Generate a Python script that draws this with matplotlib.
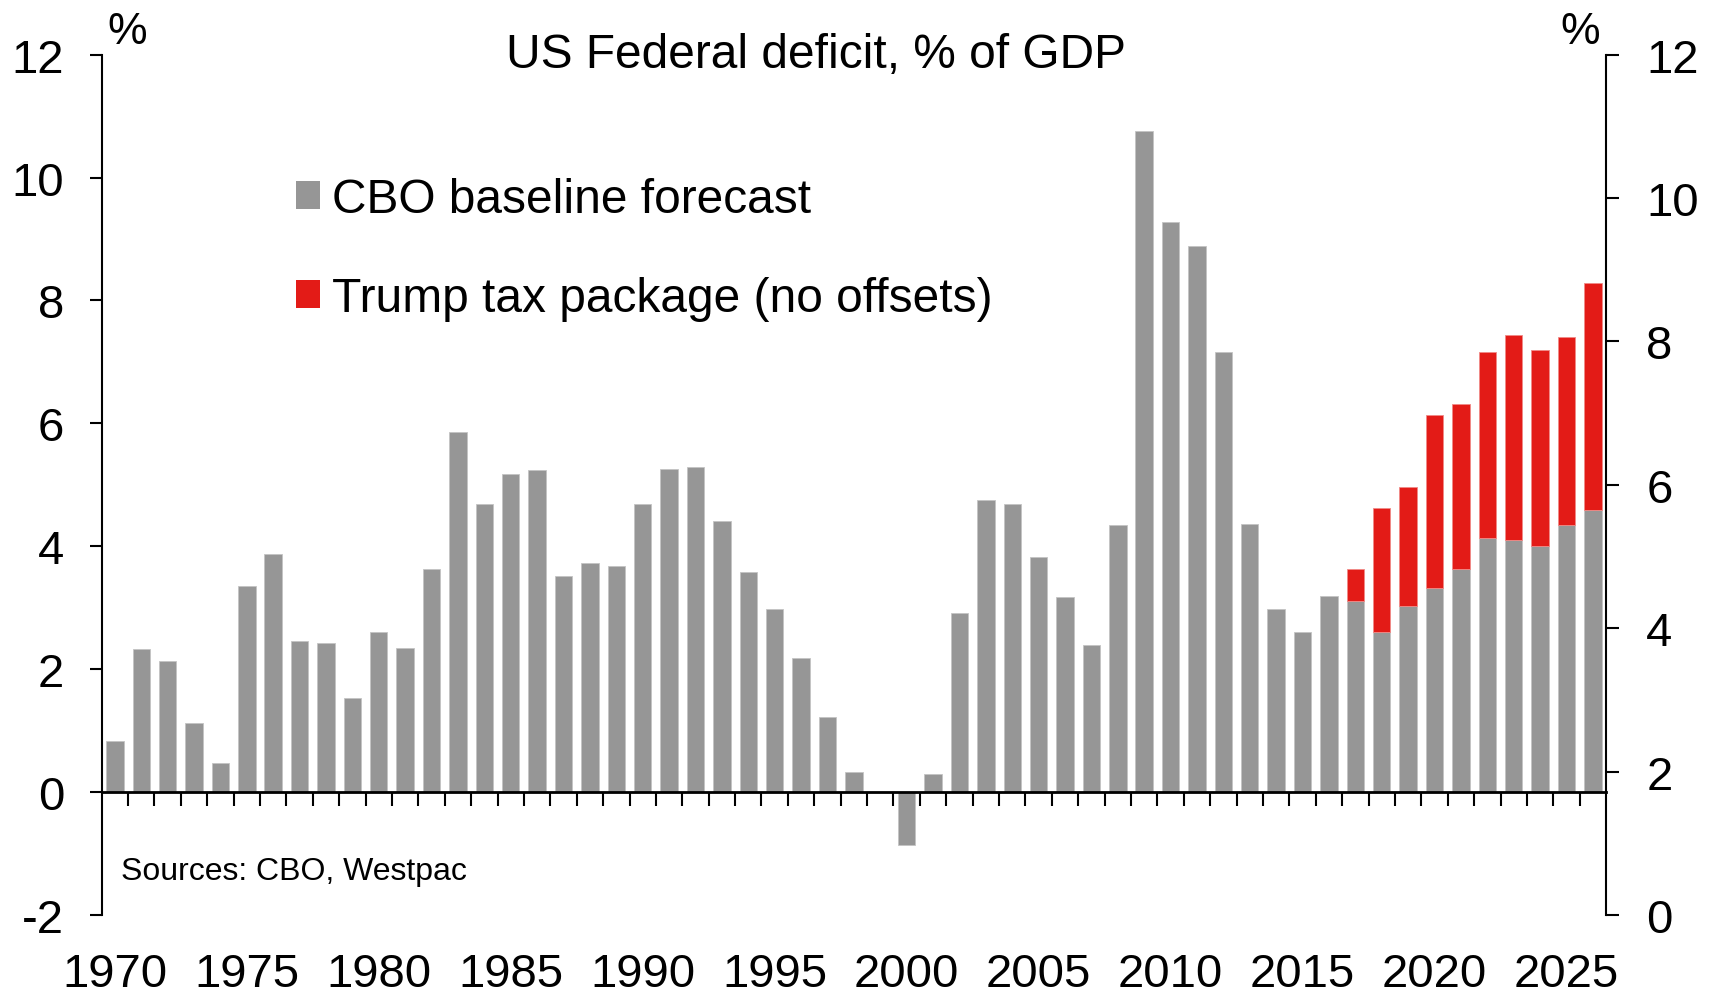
import numpy as np
import matplotlib
matplotlib.use("Agg")
import matplotlib.pyplot as plt
from matplotlib.patches import Patch

plt.rcParams["font.family"] = ["Liberation Sans", "DejaVu Sans"]

# fiscal years shown on the chart
years = list(range(1970, 2027))

# CBO baseline (history + forecast), % of GDP
cbo_baseline = [
    0.83, 2.33, 2.14, 1.13, 0.48, 3.36, 3.88, 2.46, 2.43, 1.54,
    2.61, 2.35, 3.64, 5.86, 4.69, 5.18, 5.24, 3.52, 3.73, 3.68,
    4.69, 5.26, 5.29, 4.42, 3.59, 2.98, 2.18, 1.22, 0.33, 0.0,
    -0.85, 0.30, 2.91, 4.75, 4.69, 3.83, 3.17, 2.39, 4.35, 10.75,
    9.27, 8.89, 7.17, 4.36, 2.98, 2.61, 3.19, 3.11, 2.61, 3.03,
    3.33, 3.63, 4.13, 4.11, 4.00, 4.34, 4.59,
]

# extra deficit from the tax package, 2017-2026
tax_years = list(range(2017, 2027))
tax_package = [0.52, 2.01, 1.93, 2.81, 2.69, 3.03, 3.33, 3.20, 3.07, 3.70]

label_years = list(range(1970, 2026, 5))

grey = "#969696"
red = "#E31B17"

fig = plt.figure(figsize=(17.17, 9.95), dpi=100)
ax = fig.add_axes([0.0592, 0.0792, 0.8762, 0.8649])

x = np.arange(len(years))
base = np.array(cbo_baseline)
ax.bar(x, base, width=0.66, color=grey, edgecolor="#c4c4c4", linewidth=0.6, zorder=2)

tx = np.array([years.index(y) for y in tax_years])
ax.bar(tx, tax_package, bottom=base[tx], width=0.66, color=red,
       edgecolor="#f08a87", linewidth=0.6, zorder=2)

ax.set_xlim(-0.5, len(years) - 0.5)
ax.set_ylim(-2, 12)
ax.set_yticks(np.arange(-2, 13, 2))
ax.set_yticklabels([str(v) for v in range(-2, 13, 2)])

# year boundaries as ticks, labels centred under bars
ax.set_xticks(np.arange(0.5, len(years) - 1, 1.0))
ax.set_xticklabels([])
ax.set_xticks([years.index(y) for y in label_years], minor=True)
ax.set_xticklabels([str(y) for y in label_years], minor=True)

for s in ["top", "right"]:
    ax.spines[s].set_visible(False)
ax.spines["bottom"].set_position(("data", 0))
ax.spines["bottom"].set_linewidth(2.0)
ax.spines["left"].set_linewidth(1.5)

ax.tick_params(axis="x", which="major", direction="out", length=10, width=1.5)
ax.tick_params(axis="x", which="minor", length=0, pad=115, labelsize=34)
ax.tick_params(axis="y", direction="out", length=9, width=1.5, pad=18, labelsize=34)

ax2 = ax.twinx()
ax2.set_ylim(0, 12)
ax2.set_yticks(np.arange(0, 13, 2))
for s in ["top", "left", "bottom"]:
    ax2.spines[s].set_visible(False)
ax2.spines["right"].set_linewidth(1.5)
ax2.tick_params(axis="y", direction="out", length=9, width=1.5, pad=20, labelsize=34)

fig.text(816 / 1717, 1 - 56 / 995, "US Federal deficit, % of GDP",
         ha="center", va="center", fontsize=34.5)
fig.text(127 / 1717, 1 - 33 / 995, "%", ha="center", va="center", fontsize=32)
fig.text(1580 / 1717, 1 - 33 / 995, "%", ha="center", va="center", fontsize=32)
fig.text(121 / 1717, 1 - 872 / 995, "Sources: CBO, Westpac",
         ha="left", va="center", fontsize=23)

handles = [Patch(facecolor=grey, edgecolor="none"), Patch(facecolor=red, edgecolor="none")]
ax.legend(handles, ["CBO baseline forecast", "Trump tax package (no offsets)"],
          loc="upper left", bbox_to_anchor=(296 / 1717, 1 - 178 / 995),
          bbox_transform=fig.transFigure, frameon=False, fontsize=34.5,
          handlelength=0.5, handleheight=0.5, handletextpad=0.25,
          labelspacing=1.13, borderpad=0, borderaxespad=0)

fig.savefig("out.png", dpi=100)
